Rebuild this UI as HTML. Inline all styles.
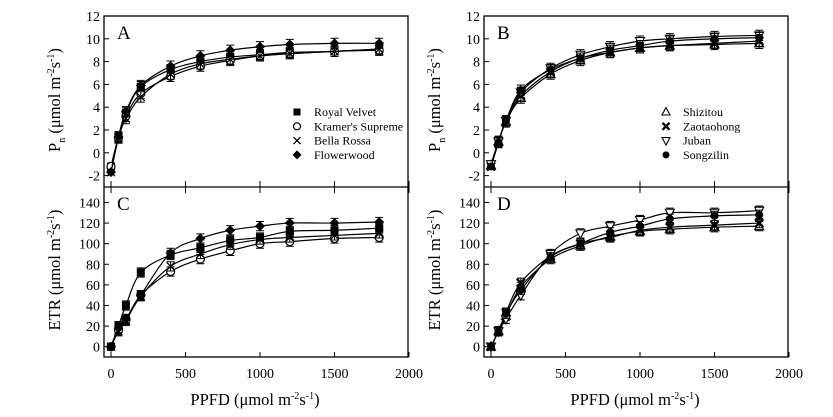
<!DOCTYPE html>
<html><head><meta charset="utf-8"><style>
html,body{margin:0;padding:0;background:#fff}
svg{display:block;font-family:"Liberation Serif",serif}
</style></head><body>
<svg id="fig" width="833" height="417" viewBox="0 0 833 417" xmlns="http://www.w3.org/2000/svg"></svg>
<script>
const ppfd = [0,50,100,200,400,600,800,1000,1200,1500,1800];
const xTicks = [0,500,1000,1500,2000];
const pnTicks = [-2,0,2,4,6,8,10,12];
const etrTicks = [0,20,40,60,80,100,120,140];
const namesA = ["Royal Velvet","Kramer's Supreme","Bella Rossa","Flowerwood"];
const namesB = ["Shizitou","Zaotaohong","Juban","Songzilin"];
const markersA = ["square","circle","cross","diamond"];
const markersB = ["triangle","xbold","tridown","dot"];
const pnRoyal = [-1.2,1.4,3.5,5.8,7.3,8.0,8.4,8.6,8.8,8.9,9.1];
const pnKramer = [-1.2,1.3,3.2,5.2,6.7,7.6,8.1,8.5,8.7,8.9,9.0];
const pnBella = [-1.7,1.3,3.0,4.9,6.9,7.8,8.2,8.5,8.7,8.9,9.1];
const pnFlower = [-1.7,1.4,3.6,5.9,7.6,8.5,9.0,9.3,9.5,9.6,9.6];
const etrRoyal = [0,20,40,72,89,96,103,106,112,113,115];
const etrKramer = [0,16,26,50,73,85,93,100,102,105,106];
const etrBella = [0,15,25,49,78,90,99,104,106,108,110];
const etrFlower = [0,18,27,50,91,105,113,117,120,120,121];
const pnShizi = [-1.1,1.0,2.7,4.8,6.9,8.1,8.8,9.2,9.4,9.5,9.6];
const pnZao = [-1.2,0.9,2.8,5.0,7.1,8.3,8.8,9.2,9.4,9.6,9.8];
const pnJuban = [-1.0,1.0,2.8,5.3,7.4,8.6,9.3,9.8,10.0,10.2,10.3];
const pnSong = [-1.2,0.9,2.8,5.5,7.3,8.3,9.0,9.4,9.8,10.0,10.1];
const etrShizi = [0,15,30,58,85,98,107,112,114,116,117];
const etrZao = [0,15,33,62,88,100,106,113,116,118,120];
const etrJuban = [0,15,27,50,90,110,117,123,130,130,132];
const etrSong = [0,15,32,55,87,100,111,117,124,127,128];
const pnErr = 0.45, etrErr = 4.5;

const NS="http://www.w3.org/2000/svg";
const svg=document.getElementById('fig');
function mk(tag,at,parent){const e=document.createElementNS(NS,tag);for(const k in at)e.setAttribute(k,at[k]);(parent||svg).appendChild(e);return e;}

function drawPanel(off,top,bot,ymin,ymax,ticks,series,markers,letter,name){
  const L=104+off,R=408+off;
  const xs=v=>111+off+v*(298/2000);
  const ys=v=>bot-(v-ymin)/(ymax-ymin)*(bot-top);
  const g=mk('g',{});
  
  
  ticks.forEach(t=>{
    const tl=mk('line',{x1:L,x2:L+5,y1:ys(t),y2:ys(t),stroke:'#000','stroke-width':1},g);
    
    
    const tx=mk('text',{x:L-4,y:ys(t)+5,'text-anchor':'end','font-size':14},g);
    
    
    tx.textContent=t;
  });
  const lt=mk('text',{x:L+13,y:top+23,'font-size':19},g);
  
  
  lt.textContent=letter;
  series.forEach((s,si)=>{
    const pts=ppfd.map((p,i)=>[xs(p),ys(s.v[i])]);
    let d='M'+pts[0][0]+','+pts[0][1];
    for(let i=0;i<pts.length-1;i++){
      const p0=pts[Math.max(0,i-1)],p1=pts[i],p2=pts[i+1],p3=pts[Math.min(pts.length-1,i+2)];
      const c1=[p1[0]+(p2[0]-p0[0])/6,p1[1]+(p2[1]-p0[1])/6];
      const c2=[p2[0]-(p3[0]-p1[0])/6,p2[1]-(p3[1]-p1[1])/6];
      d+=' C'+c1+' '+c2+' '+p2;
    }
    const ln=mk('path',{d:d,fill:'none',stroke:'#000','stroke-width':1.2},g);
    
    
    ppfd.forEach((p,i)=>{
      if(i===0)return;
      const x=xs(p),e=s.err;
      const eb=mk('path',{d:`M${x},${ys(s.v[i]-e)}V${ys(s.v[i]+e)}M${x-4},${ys(s.v[i]-e)}h8M${x-4},${ys(s.v[i]+e)}h8`,stroke:'#000','stroke-width':1,fill:'none'},g);
      
      
    });
    ppfd.forEach((p,i)=>{
      const m=marker(g,markers[si],xs(p),ys(s.v[i]),4);
      
      
    });
  });
  return {L,R};
}
function marker(g,type,x,y,r){
  switch(type){
    case 'square':return mk('rect',{x:x-r,y:y-r,width:2*r,height:2*r,fill:'#000'},g);
    case 'circle':return mk('circle',{cx:x,cy:y,r:r,fill:'#fff',stroke:'#000','stroke-width':1.2},g);
    case 'cross':return mk('path',{d:`M${x-r},${y-r}L${x+r},${y+r}M${x-r},${y+r}L${x+r},${y-r}`,stroke:'#000','stroke-width':1.3},g);
    case 'xbold':return mk('path',{d:`M${x-r},${y-r}L${x+r},${y+r}M${x-r},${y+r}L${x+r},${y-r}`,stroke:'#000','stroke-width':2.4},g);
    case 'diamond':return mk('path',{d:`M${x},${y-r-1}L${x+r+1},${y}L${x},${y+r+1}L${x-r-1},${y}Z`,fill:'#000'},g);
    case 'triangle':return mk('path',{d:`M${x},${y-r-1}L${x+r+0.5},${y+r-0.5}L${x-r-0.5},${y+r-0.5}Z`,fill:'#fff',stroke:'#000','stroke-width':1.1},g);
    case 'tridown':return mk('path',{d:`M${x},${y+r+1}L${x+r+0.5},${y-r+0.5}L${x-r-0.5},${y-r+0.5}Z`,fill:'#fff',stroke:'#000','stroke-width':1.1},g);
    default:return mk('circle',{cx:x,cy:y,r:r,fill:'#000'},g);
  }
}
function column(off,pnS,etrS,markers,names,l1,l2,legX){
  drawPanel(off,16,187,-3,12,pnTicks,pnS,markers,l1,'panel-'+l1.toLowerCase());
  drawPanel(off,187,357,-10,155,etrTicks,etrS,markers,l2,'panel-'+l2.toLowerCase());
  const L=104+off,R=408+off;
  const fr=mk('rect',{x:L,y:16,width:R-L,height:341,fill:'none',stroke:'#000','stroke-width':1.3});
  
  
  const mid=mk('line',{x1:L,x2:R,y1:187,y2:187,stroke:'#000','stroke-width':1.3});
  
  
  xTicks.forEach(t=>{
    const x=111+off+t*298/2000;
    const tk=mk('line',{x1:x,x2:x,y1:181,y2:193,stroke:'#000','stroke-width':1});
    
    
    const tk2=mk('line',{x1:x,x2:x,y1:357,y2:352,stroke:'#000','stroke-width':1});
    
    
    const tl=mk('text',{x:x,y:378,'text-anchor':'middle','font-size':14});
    
    
    tl.textContent=t;
  });
  const xt=mk('text',{x:255+off,y:405,'text-anchor':'middle','font-size':16.5});
  
  
  xt.innerHTML='PPFD (μmol m<tspan dy="-6" font-size="10">-2</tspan><tspan dy="6">s</tspan><tspan dy="-6" font-size="10">-1</tspan><tspan dy="6">)</tspan>';
  const y1=mk('text',{x:0,y:0,'text-anchor':'middle','font-size':16.5,transform:`translate(${60+off},100) rotate(-90)`});
  
  
  y1.innerHTML='P<tspan dy="5" font-size="10">n</tspan><tspan dy="-5"> (μmol m</tspan><tspan dy="-6" font-size="10">-2</tspan><tspan dy="6">s</tspan><tspan dy="-6" font-size="10">-1</tspan><tspan dy="6">)</tspan>';
  const y2=mk('text',{x:0,y:0,'text-anchor':'middle','font-size':16.5,transform:`translate(${60+off},270) rotate(-90)`});
  
  
  y2.innerHTML='ETR (μmol m<tspan dy="-6" font-size="10">-2</tspan><tspan dy="6">s</tspan><tspan dy="-6" font-size="10">-1</tspan><tspan dy="6">)</tspan>';
  names.forEach((n,i)=>{
    const y=112+i*14.3;
    const m=marker(svg,markers[i],legX,y,3.5);
    
    
    const t=mk('text',{x:legX+17,y:y+4,'font-size':12});
    
    
    t.textContent=n;
  });
}
column(0,[{v:pnRoyal,err:pnErr},{v:pnKramer,err:pnErr},{v:pnBella,err:pnErr},{v:pnFlower,err:pnErr}],
  [{v:etrRoyal,err:etrErr},{v:etrKramer,err:etrErr},{v:etrBella,err:etrErr},{v:etrFlower,err:etrErr}],markersA,namesA,'A','C',297);
column(380,[{v:pnShizi,err:pnErr},{v:pnZao,err:pnErr},{v:pnJuban,err:pnErr},{v:pnSong,err:pnErr}],
  [{v:etrShizi,err:etrErr},{v:etrZao,err:etrErr},{v:etrJuban,err:etrErr},{v:etrSong,err:etrErr}],markersB,namesB,'B','D',666);
</script>
</body></html>
